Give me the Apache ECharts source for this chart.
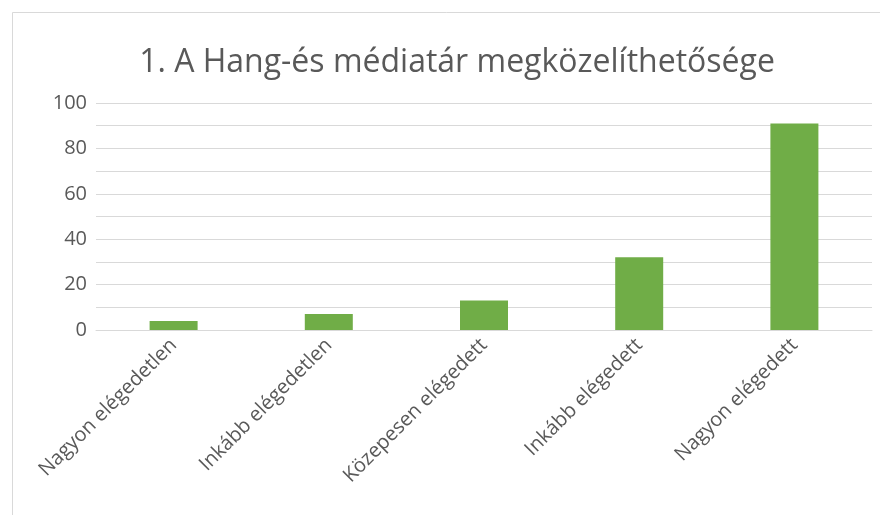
<!DOCTYPE html>
<html>
<head>
<meta charset="utf-8">
<script src="https://cdn.jsdelivr.net/npm/echarts@6/dist/echarts.min.js"></script>
<style>
  html, body { margin: 0; padding: 0; background: #fff; }
  #chart { width: 880px; height: 515px; }
</style>
</head>
<body>
<div id="chart"></div>
<script>
  var title = '1. A Hang-és médiatár megközelíthetősége';
  var categories = ['Nagyon elégedetlen', 'Inkább elégedetlen', 'Közepesen elégedett', 'Inkább elégedett', 'Nagyon elégedett'];
  var values = [4, 7, 13, 32, 91];

  var chart = echarts.init(document.getElementById('chart'));
  var option = {
    animation: false,
    backgroundColor: '#fff',
    textStyle: { fontFamily: 'Open Sans' },
    graphic: [{
      type: 'rect',
      shape: { x: 12.5, y: 12.5, width: 900, height: 600 },
      style: { fill: 'none', stroke: '#d9d9d9', lineWidth: 1 }
    }],
    title: {
      text: title,
      left: 452,
      textAlign: 'center',
      top: 42,
      textStyle: { fontFamily: 'Open Sans', fontWeight: 'normal', fontSize: 32, color: '#595959' }
    },
    grid: { left: 96, right: 8, top: 103, bottom: 185 },
    xAxis: {
      type: 'category',
      data: categories,
      axisLine: { lineStyle: { color: '#d9d9d9', width: 1 } },
      axisTick: { show: false },
      axisLabel: { rotate: 45, interval: 0, color: '#595959', fontSize: 20, margin: 12 }
    },
    yAxis: {
      type: 'value',
      min: 0,
      max: 100,
      interval: 20,
      axisLine: { show: false },
      axisTick: { show: false },
      minorTick: { show: false, splitNumber: 2 },
      minorSplitLine: { show: true, lineStyle: { color: '#d9d9d9', width: 1 } },
      splitLine: { lineStyle: { color: '#d9d9d9', width: 1 } },
      axisLabel: { color: '#595959', fontSize: 20, margin: 9 }
    },
    series: [{
      type: 'bar',
      data: values,
      barWidth: 48,
      itemStyle: { color: '#70ad47' }
    }]
  };
  chart.setOption(option);
</script>
</body>
</html>
